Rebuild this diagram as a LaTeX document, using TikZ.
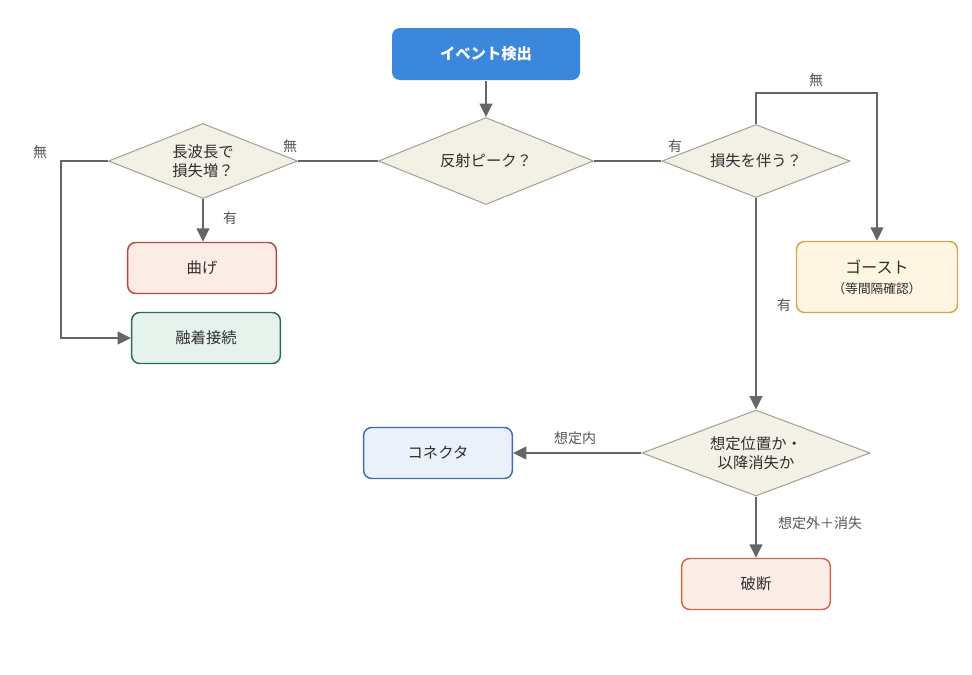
\documentclass[tikz,border=0pt]{standalone}
\usepackage{fontspec}
\setmainfont{Noto Sans CJK JP}
\usetikzlibrary{shapes.geometric,arrows.meta}
\definecolor{lineg}{HTML}{666666}
\definecolor{lblg}{HTML}{555555}
\definecolor{txt}{HTML}{2E2E2E}
\definecolor{bluef}{HTML}{3A87DB}
\definecolor{dmdf}{HTML}{F3F0E6}
\definecolor{dmdd}{HTML}{A8A398}
\definecolor{ghof}{HTML}{FEF5E3}
\definecolor{ghod}{HTML}{D9A44E}
\definecolor{conf}{HTML}{EAF1FB}
\definecolor{cond}{HTML}{3E6DB0}
\definecolor{benf}{HTML}{FCECE6}
\definecolor{bend}{HTML}{B5473D}
\definecolor{fusf}{HTML}{E5F3EC}
\definecolor{fusd}{HTML}{2E6B54}
\definecolor{brkd}{HTML}{D5654B}
\begin{document}
\begin{tikzpicture}[x=.75pt,y=-.75pt,
 box/.style={rectangle,rounded corners=6pt,line width=1.1pt,
  minimum width=111.5pt,minimum height=38.25pt,text=txt,
  font=\fontsize{11.5}{14}\selectfont},
 dmd/.style={diamond,aspect=2.5,inner sep=0pt,fill=dmdf,draw=dmdd,
  line width=.8pt,text=txt,align=center,
  font=\fontsize{11.5}{14}\selectfont},
 lbl/.style={text=lblg,font=\fontsize{10.5}{12}\selectfont},
 line/.style={draw=lineg,line width=1.5pt},
 arr/.style={line,-{Triangle[length=10pt,width=9.5pt]}}]
 \useasboundingbox (0,0) rectangle (972,675);
 % <<< nodes
 \node[box,fill=bluef,text=white,font=\fontsize{11.5}{14}\selectfont\bfseries,
  minimum width=141pt,minimum height=39pt] (detect) at (486,54) {イベント検出};
 \node[dmd,minimum width=161.25pt,minimum height=65.25pt] (refl) at (486,161) {反射ピーク？};
 \node[dmd,minimum width=141pt,minimum height=54.75pt] (loss) at (756,161) {損失を伴う？};
 \node[dmd,minimum width=141.75pt,minimum height=56.25pt] (wave) at (203,161) {長波長で\\損失増？};
 \node[dmd,minimum width=171pt,minimum height=64.5pt] (pos) at (756,453) {想定位置か・\\以降消失か};
 \node[box,fill=ghof,draw=ghod,minimum width=120.75pt,minimum height=53.25pt,
  align=center] (ghost) at (877,277)
  {{\fontsize{12}{14}\selectfont ゴースト}\\[1pt]{\fontsize{9.5}{12}\selectfont （等間隔確認）}};
 \node[box,fill=conf,draw=cond] (conn) at (438,453) {コネクタ};
 \node[box,fill=benf,draw=bend] (bendx) at (202,268) {曲げ};
 \node[box,fill=fusf,draw=fusd] (fuse) at (206,338) {融着接続};
 \node[box,fill=benf,draw=brkd] (brk) at (756,584) {破断};
 % <<< labels
 \node[lbl] (l1) at (675,146) {有};
 \node[lbl] (l2) at (816,80) {無};
 \node[lbl] (l3) at (784,305) {有};
 \node[lbl] (l4) at (575,438) {想定内};
 \node[lbl] (l5) at (820,523) {想定外＋消失};
 \node[lbl] (l6) at (290,146) {無};
 \node[lbl] (l7) at (230,218) {有};
 \node[lbl] (l8) at (40,152) {無};
 % <<< connectors
 \draw[arr] (detect) -- (refl);
 \draw[line] (refl) -- (loss);
 \draw[line] (refl) -- (wave);
 \draw[arr] (loss.north) -- ++(0,-31) -| (ghost.north);
 \draw[arr] (loss.south) -- (pos.north);
 \draw[arr] (pos.west) -- (conn.east);
 \draw[arr] (pos.south) -- (brk.north);
 \draw[arr] (wave.south) -- (wave.south |- bendx.north);
 \draw[arr] (wave.west) -- ++(-47,0) |- (fuse.west);
\end{tikzpicture}
\end{document}
